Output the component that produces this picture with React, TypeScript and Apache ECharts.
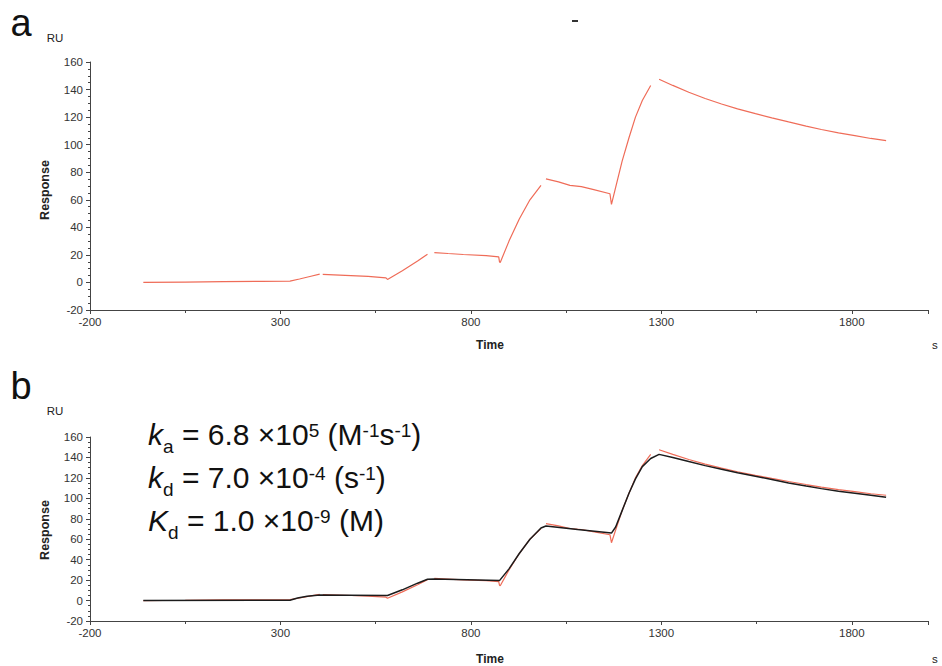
import React, { useEffect, useRef } from "react";
import * as echarts from "echarts";

// Sensorgram (measured response, RU) — null marks a gap in the trace
const redTime = [-60, 50, 150, 250, 325, 350, 380, 403, 407, 411, 470, 530, 577, 581, 620, 660, 686, 695, 704, 740, 780, 840, 873, 875, 877, 900, 927, 955, 984, 990, 997, 1030, 1060, 1090, 1120, 1165, 1169, 1180, 1197, 1215, 1232, 1250, 1272, 1283, 1294, 1330, 1372, 1415, 1458, 1500, 1547, 1590, 1634, 1680, 1720, 1765, 1808, 1850, 1890];
const redResp = [0, 0.3, 0.6, 0.8, 1, 2.5, 4.5, 6, null, 5.8, 5.2, 4.4, 3.3, 2.2, 8.5, 15.5, 20.5, null, 21.7, 21, 20.3, 19.5, 18.5, 15, 14.5, 30, 46, 60, 70.5, null, 75.2, 73, 70.5, 69.5, 67.5, 64.4, 56.6, 69, 88, 105, 120, 132, 143, null, 147.5, 143, 138, 133.5, 129.5, 126, 122.5, 119.5, 116.5, 113.5, 111, 108.5, 106.5, 104.5, 103];

// Kinetic fit (black)
const fitTime = [-60, 325, 345, 370, 403, 480, 581, 620, 660, 686, 704, 790, 875, 900, 927, 955, 984, 997, 1080, 1169, 1180, 1197, 1215, 1232, 1250, 1272, 1294, 1330, 1372, 1415, 1458, 1500, 1547, 1590, 1634, 1680, 1720, 1765, 1808, 1850, 1890];
const fitResp = [0, 0.3, 2.5, 4.2, 5.5, 5.3, 5, 10.5, 17, 20.8, 21.2, 20.3, 19.5, 31, 46, 60, 71, 73, 69.5, 66, 72, 88, 105, 119, 131, 139, 143, 140, 136, 132, 128.5, 125, 121.5, 118.5, 115, 112, 109.5, 107, 105, 103, 101];

// Axis settings (time axis ticks at -200, 300, 800, 1300, 1800)
const timeMin = -200;
const timeMax = 2000;
const timeStep = 500;
const respMin = -20;
const respMax = 160;
const respStep = 20;

const FONT = "Liberation Sans, Arial, sans-serif";
const RED = "#ef6c58";
const AXIS = "#444";

export default function App() {
  const ref = useRef<HTMLDivElement>(null);

  useEffect(() => {
    if (!ref.current) return;
    const chart = echarts.init(ref.current, null, { renderer: "svg" });

    const off = -timeMin; // shift so that the axis min is a multiple of the interval
    const redData = redTime.map((t, i) => [t + off, redResp[i] === null ? "-" : redResp[i]]);
    const fitData = fitTime.map((t, i) => [t + off, fitResp[i]]);

    const xAxisBase = (gridIndex: number) => ({
      type: "value",
      gridIndex,
      min: 0,
      max: timeMax + off,
      interval: timeStep,
      axisLine: { show: true, onZero: false, lineStyle: { color: AXIS, width: 1 } },
      axisTick: { show: true, length: 4, lineStyle: { color: AXIS } },
      minorTick: { show: true, splitNumber: 2, length: 3, lineStyle: { color: AXIS } },
      splitLine: { show: false },
      axisLabel: {
        color: "#333",
        fontSize: 11.5,
        fontFamily: FONT,
        margin: 6,
        showMaxLabel: false,
        formatter: (v: number) => String(v - off),
      },
    });
    const yAxisBase = (gridIndex: number) => ({
      type: "value",
      gridIndex,
      min: respMin,
      max: respMax,
      interval: respStep,
      axisLine: { show: true, onZero: false, lineStyle: { color: AXIS, width: 1 } },
      axisTick: { show: true, length: 4, lineStyle: { color: AXIS } },
      minorTick: { show: true, splitNumber: 4, length: 2, lineStyle: { color: AXIS } },
      splitLine: { show: false },
      axisLabel: { color: "#333", fontSize: 11.5, fontFamily: FONT, margin: 7 },
    });

    const txt = (x: number, y: number, text: string, extra: any = {}) => ({
      type: "text",
      x,
      y,
      style: {
        text,
        fontFamily: FONT,
        fontSize: 11.5,
        fill: "#222",
        textAlign: "center",
        textVerticalAlign: "middle",
        ...extra,
      },
    });

    const option: any = {
      animation: false,
      backgroundColor: "#fff",
      grid: [
        { left: 90, top: 62, width: 838, height: 248 },
        { left: 90, top: 437, width: 838, height: 184 },
      ],
      xAxis: [xAxisBase(0), xAxisBase(1)],
      yAxis: [yAxisBase(0), yAxisBase(1)],
      series: [
        {
          type: "line",
          xAxisIndex: 0,
          yAxisIndex: 0,
          data: redData,
          showSymbol: false,
          connectNulls: false,
          lineStyle: { color: RED, width: 1.2 },
          silent: true,
        },
        {
          type: "line",
          xAxisIndex: 1,
          yAxisIndex: 1,
          data: redData,
          showSymbol: false,
          connectNulls: false,
          lineStyle: { color: RED, width: 1.2 },
          silent: true,
        },
        {
          type: "line",
          xAxisIndex: 1,
          yAxisIndex: 1,
          data: fitData,
          showSymbol: false,
          lineStyle: { color: "#1c1c1c", width: 1.5 },
          silent: true,
        },
      ],
      graphic: [
        txt(21, 23, "a", { fontSize: 38, fill: "#111" }),
        txt(21, 386, "b", { fontSize: 38, fill: "#111" }),
        { type: "line", shape: { x1: 572, y1: 21, x2: 578, y2: 21 }, style: { stroke: "#333", lineWidth: 2 } },
        txt(55, 38, "RU"),
        txt(55, 411, "RU"),
        { ...txt(45, 190, "Response", { fontWeight: "bold", fontSize: 12.5 }), rotation: Math.PI / 2 },
        { ...txt(45, 530, "Response", { fontWeight: "bold", fontSize: 12.5 }), rotation: Math.PI / 2 },
        txt(490, 345, "Time", { fontWeight: "bold", fontSize: 12 }),
        txt(490, 659, "Time", { fontWeight: "bold", fontSize: 12 }),
        txt(932, 345, "s", { textAlign: "left" }),
        txt(932, 659, "s", { textAlign: "left" }),
        {
          type: "text",
          x: 148,
          y: 413,
          style: {
            text:
              "{k|k}{sub|a}{t| = 6.8 ×10}{sup|5}{t| (M}{sup|-1}{t|s}{sup|-1}{t|)}\n" +
              "{k|k}{sub|d}{t| = 7.0 ×10}{sup|-4}{t| (s}{sup|-1}{t|)}\n" +
              "{k|K}{sub|d}{t| = 1.0 ×10}{sup|-9}{t| (M)}",
            textAlign: "left",
            textVerticalAlign: "top",
            fill: "#111",
            rich: {
              t: { fontSize: 30, fontFamily: FONT, lineHeight: 43, fill: "#111" },
              k: { fontSize: 30, fontFamily: FONT, fontStyle: "italic", lineHeight: 43, fill: "#111" },
              sub: { fontSize: 19, fontFamily: FONT, lineHeight: 25, verticalAlign: "bottom", fill: "#111" },
              sup: { fontSize: 19, fontFamily: FONT, lineHeight: 20, padding: [8, 0, 0, 0], verticalAlign: "top", fill: "#111" },
            },
          },
        },
      ],
    };

    chart.setOption(option);
    return () => chart.dispose();
  }, []);

  return (
    <div
      ref={ref}
      style={{ position: "fixed", left: 0, top: 0, width: 942, height: 666, background: "#fff" }}
    />
  );
}
